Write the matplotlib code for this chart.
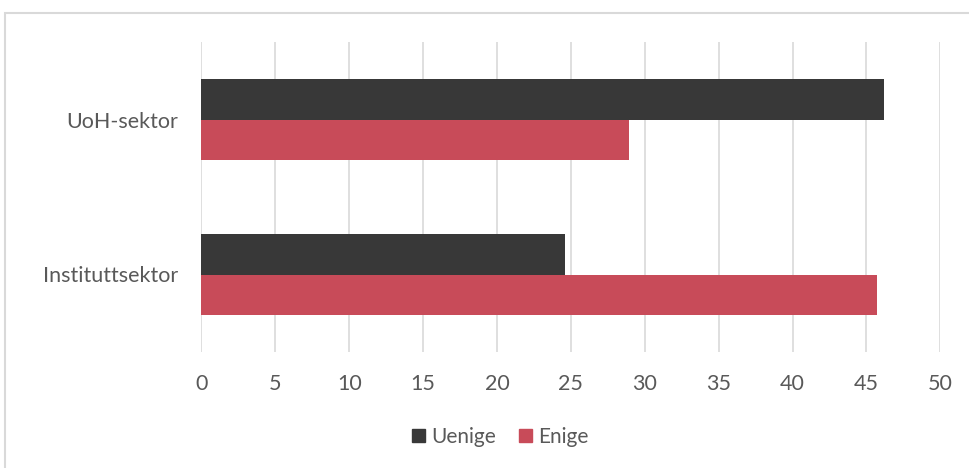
import matplotlib
matplotlib.use("Agg")
import matplotlib.pyplot as plt
from matplotlib.patches import Patch, Rectangle
import numpy as np

# data
CATEGORIES = ["Instituttsektor", "UoH-sektor"]
UENIGE = [24.6, 46.2]
ENIGE = [45.7, 28.9]
SERIES_NAMES = ["Uenige", "Enige"]
XTICKS = [0, 5, 10, 15, 20, 25, 30, 35, 40, 45, 50]

COLOR_UENIGE = "#383838"
COLOR_ENIGE = "#C84B59"
TEXT_COLOR = "#595959"
GRID_COLOR = "#D9D9D9"

plt.rcParams["font.family"] = ["Lato", "DejaVu Sans"]

fig = plt.figure(figsize=(9.7, 4.68), dpi=100)
ax = fig.add_axes([201.4 / 970, 116 / 468, 739 / 970, 310 / 468])

# outer chart border (only left/top visible in the crop)
fig.patches.append(Rectangle((5.5 / 970, -0.1), 1.2, (468 - 12.5) / 468 + 0.1,
                             transform=fig.transFigure, fill=False,
                             edgecolor=GRID_COLOR, linewidth=1.5))

y = np.arange(len(CATEGORIES))
h = 0.26
ax.barh(y + h / 2, UENIGE, height=h, color=COLOR_UENIGE, zorder=3)
ax.barh(y - h / 2, ENIGE, height=h, color=COLOR_ENIGE, zorder=3)

ax.set_xlim(0, 50)
ax.set_ylim(-0.5, 1.5)
ax.set_xticks(XTICKS)
ax.set_yticks(y)
ax.set_yticklabels(CATEGORIES)
ax.grid(axis="x", color=GRID_COLOR, linewidth=1.2, zorder=0)
ax.tick_params(axis="both", length=0, labelsize=15.5, colors=TEXT_COLOR)
ax.tick_params(axis="x", pad=16)
ax.tick_params(axis="y", pad=17)
for s in ax.spines.values():
    s.set_visible(False)

handles = [Patch(color=COLOR_UENIGE), Patch(color=COLOR_ENIGE)]
fig.legend(handles, SERIES_NAMES, loc="center", bbox_to_anchor=(500 / 970, 1 - 437 / 468),
           ncol=2, frameon=False, fontsize=15, labelcolor=TEXT_COLOR,
           handlelength=0.62, handleheight=0.62, handletextpad=0.3, columnspacing=1.1)

fig.savefig("out.png", dpi=100)
